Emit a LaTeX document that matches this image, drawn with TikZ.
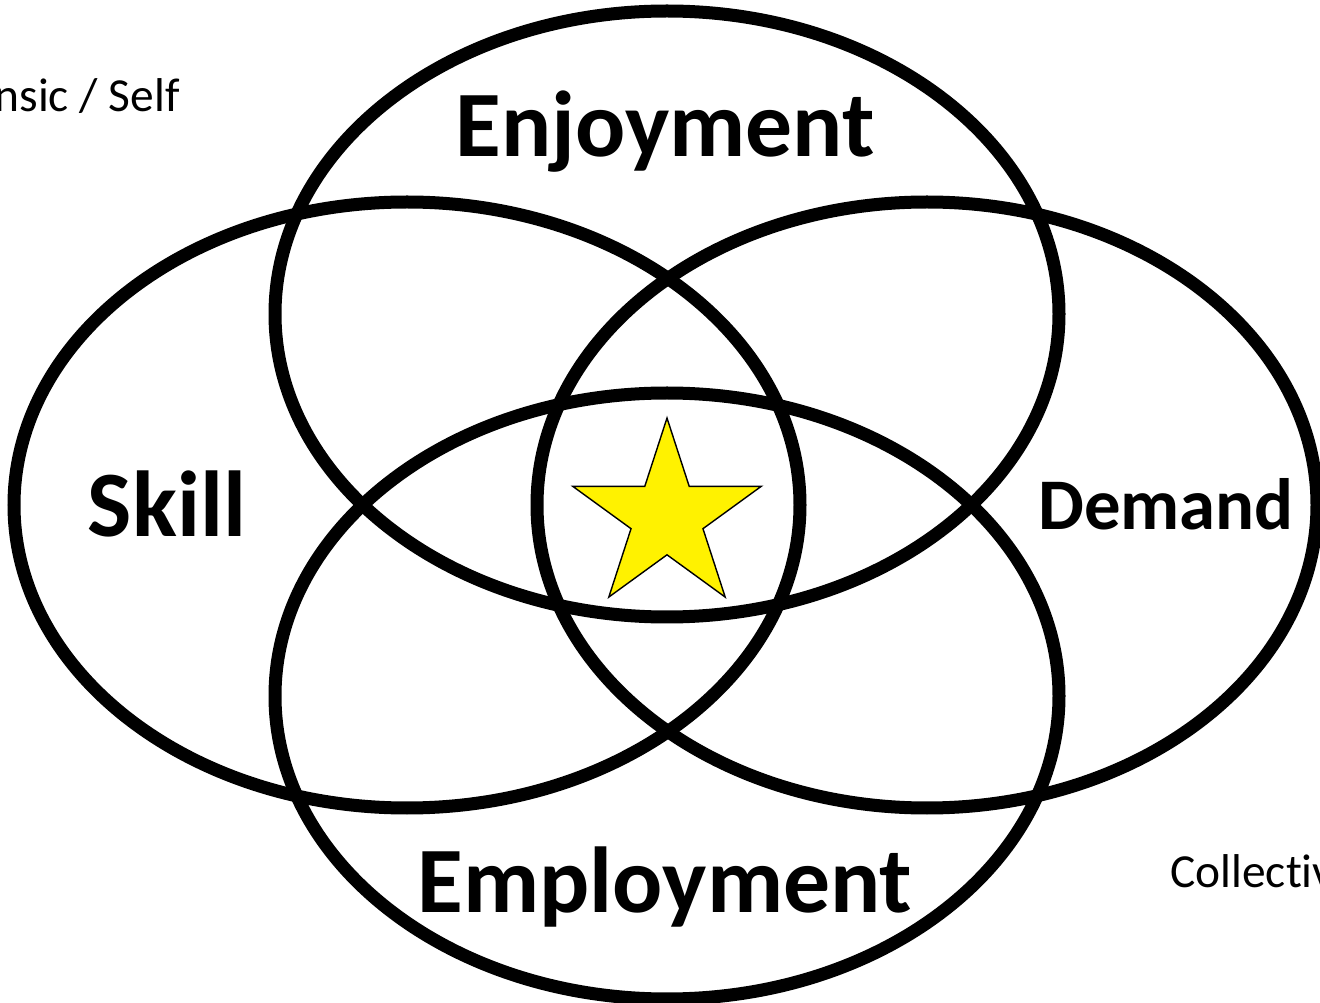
\documentclass[tikz,border=0pt]{standalone}
\usepackage{fontspec}
\setmainfont{Carlito}[Ligatures=NoCommon]
\usetikzlibrary{shapes.geometric}

\begin{document}
\begin{tikzpicture}[
        x=0.02cm, y=-0.02cm,
        ring/.style={line width=7.4pt, black},
        bigword/.style={font=\fontsize{53.3}{60}\selectfont\bfseries, inner sep=0pt},
        midword/.style={font=\fontsize{41.4}{48}\selectfont\bfseries, inner sep=0pt},
        sidetext/.style={font=\fontsize{27}{32}\selectfont, inner sep=0pt},
        goal/.style={star, star points=5, star point ratio=2.618, minimum size=198*0.02cm,
            inner sep=0pt, fill=yellow, draw=black, line width=0.8pt}
    ]
        \useasboundingbox (0, 0) rectangle (1320, 1003);
        \clip (0, 0) rectangle (1320, 1003);

        % Centres of the four ellipses
        \coordinate (enjoy) at (667, 314);
        \coordinate (employ) at (667, 696);
        \coordinate (skill) at (407, 505);
        \coordinate (demand) at (927, 505);

        % Ellipses
        \draw[ring] (enjoy) ellipse [x radius=392, y radius=303];
        \draw[ring] (employ) ellipse [x radius=392, y radius=303];
        \draw[ring] (skill) ellipse [x radius=393, y radius=303];
        \draw[ring] (demand) ellipse [x radius=390, y radius=303];

        % Labels
        \node[bigword, anchor=base] (enjoytext) at (665, 157) {Enjoyment};
        \node[bigword, anchor=base] (employtext) at (665, 912) {Employment};
        \node[bigword, anchor=base] (skilltext) at (167, 537) {Skill};
        \node[midword, anchor=base] (demandtext) at (1166, 530) {Demand};

        % Axis notes, cut by the page edge as in the original
        \node[sidetext, anchor=base east] (selftext) at (180, 112) {Intrinsic / Self};
        \node[sidetext, anchor=base west] (colltext) at (1170, 888) {Collective};

        % Star in the middle
        \node[goal] (target) at (667, 517) {};
    \end{tikzpicture}
\end{document}
